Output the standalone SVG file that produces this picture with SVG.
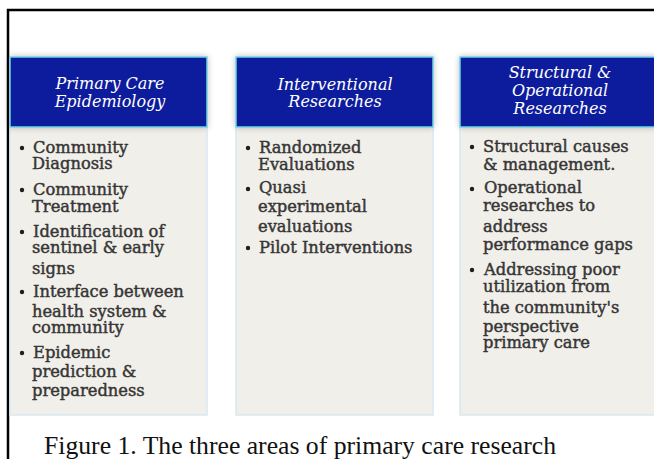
<svg xmlns="http://www.w3.org/2000/svg" width="654" height="459" viewBox="0 0 654 459">
  <style>
    .head { fill: #0a1c9c; stroke: #6fd2e4; stroke-width: 1.5; }
    .body { fill: #f1efe9; stroke: #d6eaf3; stroke-width: 1.5; }
    .htxt { font-family: "DejaVu Serif", serif; font-style: italic; font-size: 16px; fill: #ffffff; text-anchor: middle; }
    .btxt { font-family: "DejaVu Serif", serif; font-size: 16.3px; fill: #363636; stroke: #363636; stroke-width: 0.45; }
    .dot { fill: #1e1e1e; }
    .cap { font-family: "Liberation Serif", "Times New Roman", serif; font-size: 25px; fill: #111111; }
  </style>
  <defs>
    <filter id="glow" x="-10%" y="-20%" width="120%" height="140%">
      <feGaussianBlur in="SourceAlpha" stdDeviation="3"/>
      <feComponentTransfer><feFuncA type="linear" slope="0.25"/></feComponentTransfer>
      <feMerge><feMergeNode/><feMergeNode in="SourceGraphic"/></feMerge>
    </filter>
  </defs>

  <rect width="654" height="459" fill="#ffffff"/>

  <!-- outer frame: top and left edges only -->
  <path d="M8 459 V10 H654" fill="none" stroke="#000000" stroke-width="2.5"/>

  <!-- column 1 -->
  <g id="primary-care-epidemiology">
    <rect class="body" x="10" y="127" width="197" height="288"/>
    <rect class="head" x="10" y="57" width="197" height="70" filter="url(#glow)"/>
    <text class="htxt" x="110" y="89">Primary Care</text>
    <text class="htxt" x="110" y="107">Epidemiology</text>
    <circle class="dot" cx="22" cy="148" r="2.2"/>
    <circle class="dot" cx="22" cy="190" r="2.2"/>
    <circle class="dot" cx="22" cy="232" r="2.2"/>
    <circle class="dot" cx="22" cy="292" r="2.2"/>
    <circle class="dot" cx="22" cy="353" r="2.2"/>
    <text class="btxt" x="33" y="153">Community</text>
    <text class="btxt" x="32" y="169">Diagnosis</text>
    <text class="btxt" x="33" y="195">Community</text>
    <text class="btxt" x="32" y="212">Treatment</text>
    <text class="btxt" x="33" y="237">Identification of</text>
    <text class="btxt" x="32" y="253">sentinel &amp; early</text>
    <text class="btxt" x="32" y="274">signs</text>
    <text class="btxt" x="33" y="297">Interface between</text>
    <text class="btxt" x="32" y="317">health system &amp;</text>
    <text class="btxt" x="32" y="333">community</text>
    <text class="btxt" x="33" y="358">Epidemic</text>
    <text class="btxt" x="32" y="377">prediction &amp;</text>
    <text class="btxt" x="32" y="396">preparedness</text>
  </g>

  <!-- column 2 -->
  <g id="interventional-researches">
    <rect class="body" x="236" y="127" width="197" height="288"/>
    <rect class="head" x="236" y="57" width="197" height="70" filter="url(#glow)"/>
    <text class="htxt" x="335" y="90">Interventional</text>
    <text class="htxt" x="335" y="107">Researches</text>
    <circle class="dot" cx="248" cy="148" r="2.2"/>
    <circle class="dot" cx="248" cy="189" r="2.2"/>
    <circle class="dot" cx="248" cy="248" r="2.2"/>
    <text class="btxt" x="259" y="153">Randomized</text>
    <text class="btxt" x="258" y="170">Evaluations</text>
    <text class="btxt" x="259" y="193">Quasi</text>
    <text class="btxt" x="258" y="212">experimental</text>
    <text class="btxt" x="258" y="232">evaluations</text>
    <text class="btxt" x="259" y="253">Pilot Interventions</text>
  </g>

  <!-- column 3 -->
  <g id="structural-operational-researches">
    <rect class="body" x="460" y="127" width="200" height="288"/>
    <rect class="head" x="460" y="57" width="200" height="70" filter="url(#glow)"/>
    <text class="htxt" x="560" y="78">Structural &amp;</text>
    <text class="htxt" x="560" y="96">Operational</text>
    <text class="htxt" x="560" y="114">Researches</text>
    <circle class="dot" cx="472" cy="147" r="2.2"/>
    <circle class="dot" cx="472" cy="189" r="2.2"/>
    <circle class="dot" cx="472" cy="270" r="2.2"/>
    <text class="btxt" x="483" y="152">Structural causes</text>
    <text class="btxt" x="483" y="170">&amp; management.</text>
    <text class="btxt" x="484" y="193">Operational</text>
    <text class="btxt" x="483" y="211">researches to</text>
    <text class="btxt" x="483" y="232">address</text>
    <text class="btxt" x="483" y="250">performance gaps</text>
    <text class="btxt" x="484" y="275">Addressing poor</text>
    <text class="btxt" x="483" y="292">utilization from</text>
    <text class="btxt" x="483" y="313">the community's</text>
    <text class="btxt" x="483" y="332">perspective</text>
    <text class="btxt" x="483" y="348">primary care</text>
  </g>

  <g id="connectors"/>

  <text class="cap" x="44" y="454" textLength="512" lengthAdjust="spacingAndGlyphs">Figure 1. The three areas of primary care research</text>
</svg>
